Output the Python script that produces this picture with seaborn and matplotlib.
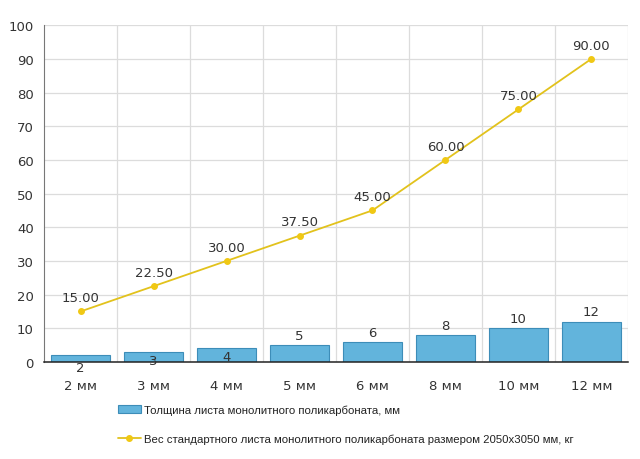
import numpy as np
import matplotlib
matplotlib.use("Agg")
import matplotlib.pyplot as plt
from matplotlib import font_manager
import seaborn as sns
from matplotlib.patches import Patch
from matplotlib.lines import Line2D

categories = ["2 мм", "3 мм", "4 мм", "5 мм", "6 мм", "8 мм", "10 мм", "12 мм"]
thickness = [2, 3, 4, 5, 6, 8, 10, 12]
weight = [15.00, 22.50, 30.00, 37.50, 45.00, 60.00, 75.00, 90.00]

bar_label = "Толщина листа монолитного поликарбоната, мм"
line_label = "Вес стандартного листа монолитного поликарбоната размером 2050x3050 мм, кг"

BAR_COLOR = "#62b4dc"
BAR_EDGE = "#3d8db8"
LINE_COLOR = "#e2c21c"
MARKER_COLOR = "#f0c814"

sns.set_style("white")
plt.rcParams["font.family"] = ["DejaVu Sans"]
plt.rcParams["font.size"] = 9.5

# legend text in the original is narrow; use a narrow face when there is one
try:
    font_manager.findfont("Liberation Sans Narrow", fallback_to_default=False)
    legend_prop = {"family": "Liberation Sans Narrow", "size": 9.8}
except ValueError:
    legend_prop = {"family": "Liberation Sans", "size": 8.2}

fig = plt.figure(figsize=(6.4, 4.6), dpi=100)
ax = fig.add_axes([0.069, 0.211, 0.912, 0.732])

sns.barplot(x=categories, y=thickness, color=BAR_COLOR, edgecolor=BAR_EDGE,
            linewidth=0.8, width=0.8, saturation=1, ax=ax, zorder=2)
sns.pointplot(x=categories, y=weight, color=LINE_COLOR, markers="o",
              markersize=4, linewidth=1.3, ax=ax, zorder=3)
for ln in ax.lines:
    ln.set_markerfacecolor(MARKER_COLOR)
    ln.set_markeredgecolor(MARKER_COLOR)

# bar value labels (small bars get label pushed down over the axis)
for i, v in enumerate(thickness):
    if v < 5:
        off = -6 if v > 2 else -9
        ax.annotate(str(v), (i, v), xytext=(0, off), textcoords="offset points",
                    ha="center", va="center", color="#333333", fontsize=9.5)
    else:
        ax.annotate(str(v), (i, v), xytext=(0, 7), textcoords="offset points",
                    ha="center", va="center", color="#333333", fontsize=9.5)

for i, w in enumerate(weight):
    ax.annotate(f"{w:.2f}", (i, w), xytext=(0, 10), textcoords="offset points",
                ha="center", va="center", color="#333333", fontsize=9.5)

ax.set_xlim(-0.5, len(categories) - 0.5)
ax.set_ylim(0, 100)
ax.set_yticks(np.arange(0, 101, 10))
ax.set_xticks(np.arange(len(categories)) + 0.5, minor=True)
ax.grid(axis="y", which="major", color="#dcdcdc", linewidth=0.9, zorder=0)
ax.grid(axis="x", which="minor", color="#dcdcdc", linewidth=0.9, zorder=0)
ax.set_axisbelow(True)

for s in ["top", "right"]:
    ax.spines[s].set_visible(False)
ax.spines["left"].set_color("#777777")
ax.spines["bottom"].set_color("#222222")
ax.spines["bottom"].set_linewidth(1.1)

ax.tick_params(axis="x", which="major", length=3, color="#bbbbbb", pad=9,
               labelcolor="#333333")
ax.tick_params(axis="x", which="minor", length=0)
ax.tick_params(axis="y", length=4, color="#999999", labelcolor="#333333")
ax.set_xlabel("")
ax.set_ylabel("")

handles = [
    Patch(facecolor=BAR_COLOR, edgecolor=BAR_EDGE, linewidth=0.8, label=bar_label),
    Line2D([0], [0], color=LINE_COLOR, lw=1.3, marker="o", markersize=4,
           markerfacecolor=MARKER_COLOR, markeredgecolor=MARKER_COLOR, label=line_label),
]
fig.legend(handles=handles, loc="upper left", bbox_to_anchor=(0.168, 0.14),
           frameon=False, prop=legend_prop,
           handlelength=2.0, handletextpad=0.3,
           labelspacing=1.6, labelcolor="#222222")

fig.savefig("out.png", dpi=100)
